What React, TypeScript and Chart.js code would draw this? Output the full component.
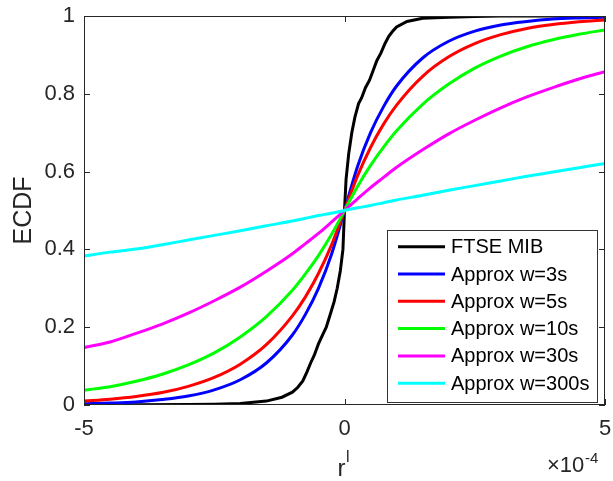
import { useEffect, useRef } from "react";
import { Chart, registerables } from "chart.js";

Chart.register(...registerables);

// x values in units of 1e-4
const X_GRID = [-5, -4.5, -4, -3.5, -3, -2.5, -2, -1.5, -1, -0.75, -0.5, -0.25, 0, 0.25, 0.5, 0.75, 1, 1.5, 2, 2.5, 3, 3.5, 4, 4.5, 5];

const APPROX_W3 = [0.003, 0.005, 0.008, 0.014, 0.023, 0.039, 0.065, 0.108, 0.18, 0.233, 0.3, 0.387, 0.5, 0.613, 0.7, 0.767, 0.82, 0.892, 0.935, 0.961, 0.977, 0.986, 0.992, 0.995, 0.997];
const APPROX_W5 = [0.01, 0.015, 0.022, 0.032, 0.048, 0.071, 0.105, 0.155, 0.229, 0.278, 0.338, 0.411, 0.5, 0.589, 0.662, 0.722, 0.771, 0.845, 0.895, 0.929, 0.952, 0.968, 0.978, 0.985, 0.99];
const APPROX_W10 = [0.038, 0.047, 0.061, 0.079, 0.103, 0.134, 0.175, 0.227, 0.295, 0.337, 0.384, 0.438, 0.5, 0.562, 0.616, 0.663, 0.705, 0.773, 0.825, 0.866, 0.897, 0.921, 0.939, 0.953, 0.964];
const APPROX_W30 = [0.148, 0.162, 0.184, 0.208, 0.236, 0.268, 0.303, 0.344, 0.389, 0.415, 0.441, 0.47, 0.5, 0.53, 0.559, 0.585, 0.611, 0.656, 0.697, 0.732, 0.764, 0.792, 0.816, 0.838, 0.857];
const APPROX_W300 = [0.383, 0.393, 0.401, 0.412, 0.424, 0.436, 0.448, 0.461, 0.473, 0.48, 0.487, 0.493, 0.5, 0.507, 0.513, 0.52, 0.527, 0.539, 0.552, 0.564, 0.576, 0.588, 0.599, 0.61, 0.621];

const FTSE_X = [-5, -3, -2.5, -2, -1.5, -1.2, -1.0, -0.9, -0.8, -0.72, -0.65, -0.58, -0.5, -0.42, -0.35, -0.28, -0.2, -0.14, -0.08, -0.03, 0, 0.03, 0.08, 0.14, 0.2, 0.27, 0.33, 0.4, 0.48, 0.55, 0.62, 0.7, 0.78, 0.85, 0.92, 1.0, 1.2, 1.5, 2, 2.5, 3, 5];
const FTSE_Y = [0, 0.001, 0.002, 0.004, 0.01, 0.02, 0.033, 0.045, 0.062, 0.085, 0.108, 0.128, 0.157, 0.18, 0.2, 0.23, 0.265, 0.3, 0.345, 0.4, 0.5, 0.58, 0.645, 0.7, 0.74, 0.775, 0.79, 0.815, 0.835, 0.86, 0.885, 0.905, 0.93, 0.948, 0.96, 0.972, 0.986, 0.994, 0.997, 0.999, 1, 1];

const SERIES_LABELS = ["FTSE MIB", "Approx w=3s", "Approx w=5s", "Approx w=10s", "Approx w=30s", "Approx w=300s"];
const SERIES_COLORS = ["#000000", "#0000ff", "#ff0000", "#00ff00", "#ff00ff", "#00ffff"];

const Y_TICKS = [0, 0.2, 0.4, 0.6, 0.8, 1];
const X_TICKS = [-5, 0, 5];

const FONT = "'Liberation Sans', Arial, Helvetica, sans-serif";
const AXIS_COLOR = "#262626";

const toPoints = (xs: number[], ys: number[]) => xs.map((x, i) => ({ x, y: ys[i] }));

const matlabPlugin = {
  id: "matlabFrame",
  afterDatasetsDraw(chart: any) {
    const { ctx, chartArea: a, scales } = chart;
    ctx.save();
    ctx.strokeStyle = AXIS_COLOR;
    ctx.lineWidth = 1;
    ctx.strokeRect(a.left + 0.5, a.top + 0.5, a.right - a.left - 1, a.bottom - a.top - 1);
    const tl = 6;
    ctx.beginPath();
    for (const v of Y_TICKS) {
      const y = Math.round(scales.y.getPixelForValue(v)) + 0.5;
      ctx.moveTo(a.left, y);
      ctx.lineTo(a.left + tl, y);
      ctx.moveTo(a.right, y);
      ctx.lineTo(a.right - tl, y);
    }
    for (const v of X_TICKS) {
      const x = Math.round(scales.x.getPixelForValue(v)) + 0.5;
      ctx.moveTo(x, a.bottom);
      ctx.lineTo(x, a.bottom - tl);
      ctx.moveTo(x, a.top);
      ctx.lineTo(x, a.top + tl);
    }
    ctx.stroke();
    ctx.restore();
  },
  afterDraw(chart: any) {
    const { ctx, chartArea: a } = chart;
    ctx.save();
    // legend
    const bw = 210;
    const bh = 172;
    const bx = a.right - 8 - bw;
    const by = a.bottom - 3 - bh;
    ctx.fillStyle = "#ffffff";
    ctx.fillRect(bx, by, bw, bh);
    ctx.strokeStyle = "#333333";
    ctx.lineWidth = 1;
    ctx.strokeRect(bx + 0.5, by + 0.5, bw, bh);
    ctx.font = `20px ${FONT}`;
    ctx.textBaseline = "middle";
    ctx.textAlign = "left";
    chart.data.datasets.forEach((ds: any, i: number) => {
      const y = by + 16.7 + i * 27.3;
      ctx.strokeStyle = ds.borderColor;
      ctx.lineWidth = 3;
      ctx.beginPath();
      ctx.moveTo(bx + 11, y);
      ctx.lineTo(bx + 58, y);
      ctx.stroke();
      ctx.fillStyle = "#000000";
      ctx.fillText(ds.label, bx + 64, y + 1);
    });
    // x axis title r^l
    ctx.fillStyle = AXIS_COLOR;
    ctx.textBaseline = "alphabetic";
    ctx.font = `24px ${FONT}`;
    const cx = (a.left + a.right) / 2;
    ctx.fillText("r", cx - 7, 476);
    ctx.font = `16px ${FONT}`;
    ctx.fillText("l", cx + 1.5, 462);
    // exponent
    ctx.font = `22px ${FONT}`;
    ctx.fillText("\u00d710", a.right - 58, 472);
    ctx.font = `15px ${FONT}`;
    ctx.fillText("-4", a.right - 20, 463);
    ctx.restore();
  },
};

const zeroPad = (s: any) => {
  s.paddingLeft = 0;
  s.paddingRight = 0;
  s.paddingTop = 0;
  s.paddingBottom = 0;
};

export default function App() {
  const ref = useRef<HTMLCanvasElement | null>(null);
  useEffect(() => {
    document.body.style.margin = "0";
    if (!ref.current) return;
    const series = [
      toPoints(FTSE_X, FTSE_Y),
      toPoints(X_GRID, APPROX_W3),
      toPoints(X_GRID, APPROX_W5),
      toPoints(X_GRID, APPROX_W10),
      toPoints(X_GRID, APPROX_W30),
      toPoints(X_GRID, APPROX_W300),
    ];
    const chart = new Chart(ref.current, {
      type: "line",
      data: {
        datasets: series.map((data, i) => ({
          label: SERIES_LABELS[i],
          data,
          borderColor: SERIES_COLORS[i],
          backgroundColor: SERIES_COLORS[i],
          borderWidth: 3,
          pointRadius: 0,
          fill: false,
          tension: 0,
          cubicInterpolationMode: i === 0 ? "default" : "monotone",
          order: SERIES_LABELS.length - i,
        })),
      },
      options: {
        animation: false,
        responsive: false,
        devicePixelRatio: 1,
        parsing: false,
        layout: { padding: { top: 16, right: 8, left: 0, bottom: 0 } },
        plugins: { legend: { display: false }, tooltip: { enabled: false } },
        scales: {
          x: {
            type: "linear",
            min: -5,
            max: 5,
            afterFit: (s: any) => { s.height = 76; zeroPad(s); },
            afterBuildTicks: (s: any) => { s.ticks = X_TICKS.map((v) => ({ value: v })); },
            ticks: { font: { size: 22, family: FONT }, color: AXIS_COLOR, padding: 11, callback: (v: any) => String(Number(v)) },
            grid: { display: false, drawTicks: false },
            border: { display: false },
          },
          y: {
            type: "linear",
            min: 0,
            max: 1,
            afterFit: (s: any) => { s.width = 84; zeroPad(s); },
            afterBuildTicks: (s: any) => { s.ticks = Y_TICKS.map((v) => ({ value: v })); },
            ticks: { font: { size: 22, family: FONT }, color: AXIS_COLOR, padding: 9, callback: (v: any) => String(Number(v)) },
            grid: { display: false, drawTicks: false },
            border: { display: false },
            title: { display: true, text: "ECDF", font: { size: 25, family: FONT }, color: AXIS_COLOR, padding: { top: 9, bottom: 0 } },
          },
        },
      },
      plugins: [matlabPlugin],
    } as any);
    return () => chart.destroy();
  }, []);
  return (
    <div style={{ width: 613, height: 481 }}>
      <canvas ref={ref} width={613} height={481} style={{ display: "block" }} />
    </div>
  );
}
